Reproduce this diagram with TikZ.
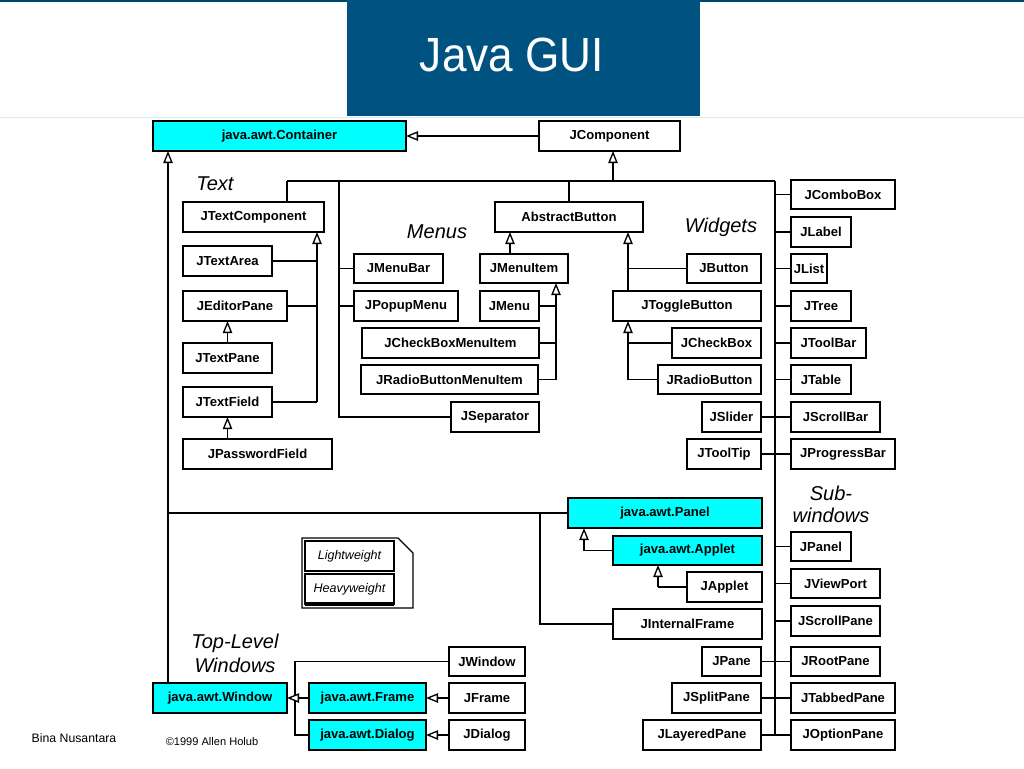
\documentclass[tikz,border=0pt]{standalone}
\usepackage{fontspec}
\setmainfont{Liberation Sans}
\usetikzlibrary{arrows.meta}
\definecolor{titleblue}{RGB}{0,83,128}
\definecolor{awtcyan}{RGB}{0,255,255}
\definecolor{faintline}{RGB}{215,238,245}
\tikzset{
  box/.style={draw=black, line width=1pt, fill=white, inner sep=0pt, outer sep=0pt,
    font=\fontsize{9.8}{11}\selectfont\bfseries},
  heavy/.style={box, line width=1.6pt},
  awt/.style={heavy, fill=awtcyan},
  legendbox/.style={box, line width=0.9pt, font=\fontsize{9.4}{11}\selectfont\itshape},
  conn/.style={draw=black, line width=1.1pt},
  inh/.style={conn, -{Triangle[fill=white, length=9pt, width=7pt, line width=1pt]}},
  cat/.style={font=\fontsize{15}{17.5}\selectfont\itshape, inner sep=0pt, anchor=base},
}
\newcommand\mybox[7][box]{\node[#1, minimum width={(#5-#3)*0.75pt}, minimum height={(#6-#4)*0.75pt}] (#2) at ({(#3+#5)/2},{(#4+#6)/2}) {#7};}
\begin{document}
\begin{tikzpicture}[x=0.75pt, y=-0.75pt]
\useasboundingbox (0,0) rectangle (1024,768);
\fill[white] (0,0) rectangle (1024,768);
% header
\fill[titleblue!85!black] (0,0) rectangle (1024,2);
\draw[faintline, line width=1.2pt] (0,117.5) -- (1024,117.5);
\fill[titleblue] (347,0) rectangle (700,116);
\node[text=white, font=\fontsize{36}{40}\selectfont, inner sep=0pt, xscale=0.92, transform shape] (title) at (512,55) {Java GUI};

% boxes
\mybox[awt]{container}{153}{121}{406}{151}{java.awt.Container}
\mybox{jcomponent}{539}{121}{680}{151}{JComponent}
\mybox{jtextcomponent}{183}{202}{324}{232}{JTextComponent}
\mybox{jtextarea}{183}{246}{272}{276}{JTextArea}
\mybox{jeditorpane}{183}{291}{287}{321}{JEditorPane}
\mybox{jtextpane}{183}{343}{272}{373}{JTextPane}
\mybox{jtextfield}{183}{387}{272}{417}{JTextField}
\mybox{jpasswordfield}{183}{439}{332}{469}{JPasswordField}
\mybox{jmenubar}{354}{254}{443}{283}{JMenuBar}
\mybox{jpopupmenu}{354}{291}{458}{321}{JPopupMenu}
\mybox{abstractbutton}{495}{202}{643}{232}{AbstractButton}
\mybox{jmenuitem}{480}{254}{568}{283}{JMenuItem}
\mybox{jmenu}{480}{291}{539}{321}{JMenu}
\mybox{jcheckboxmenuitem}{362}{328}{539}{358}{JCheckBoxMenuItem}
\mybox{jradiobuttonmenuitem}{361}{365}{538}{394}{JRadioButtonMenuItem}
\mybox{jseparator}{451}{402}{539}{432}{JSeparator}
\mybox{jbutton}{687}{254}{761}{283}{JButton}
\mybox{jtogglebutton}{613}{291}{761}{321}{JToggleButton}
\mybox{jcheckbox}{672}{328}{761}{358}{JCheckBox}
\mybox{jradiobutton}{658}{365}{761}{394}{JRadioButton}
\mybox{jslider}{702}{402}{761}{432}{JSlider}
\mybox{jtooltip}{687}{439}{761}{469}{JToolTip}
\mybox{jcombobox}{791}{180}{895}{209}{JComboBox}
\mybox{jlabel}{791}{217}{851}{247}{JLabel}
\mybox{jlist}{791}{254}{827}{283}{JList}
\mybox{jtree}{791}{291}{851}{321}{JTree}
\mybox{jtoolbar}{791}{328}{866}{358}{JToolBar}
\mybox{jtable}{791}{365}{851}{394}{JTable}
\mybox{jscrollbar}{791}{402}{880}{432}{JScrollBar}
\mybox{jprogressbar}{791}{439}{895}{469}{JProgressBar}
\mybox{jpanel}{791}{532}{851}{561}{JPanel}
\mybox{jviewport}{791}{569}{880}{598}{JViewPort}
\mybox{jscrollpane}{791}{606}{880}{636}{JScrollPane}
\mybox{jrootpane}{791}{647}{880}{676}{JRootPane}
\mybox{jtabbedpane}{791}{683}{895}{713}{JTabbedPane}
\mybox{joptionpane}{791}{720}{895}{750}{JOptionPane}
\mybox{jpane}{702}{647}{761}{676}{JPane}
\mybox{jsplitpane}{672}{683}{761}{713}{JSplitPane}
\mybox{jlayeredpane}{643}{720}{761}{750}{JLayeredPane}
\mybox[awt]{panel}{568}{498}{762}{528}{java.awt.Panel}
\mybox[awt]{applet}{613}{536}{762}{565}{java.awt.Applet}
\mybox[heavy]{japplet}{687}{572}{762}{602}{JApplet}
\mybox{jinternalframe}{613}{609}{762}{639}{JInternalFrame}
\mybox[awt]{window}{153}{683}{287}{713}{java.awt.Window}
\mybox[awt]{frame}{309}{683}{426}{713}{java.awt.Frame}
\mybox[awt]{dialog}{309}{720}{426}{750}{java.awt.Dialog}
\mybox{jwindow}{449}{647}{525}{676}{JWindow}
\mybox{jframe}{449}{683}{525}{713}{JFrame}
\mybox{jdialog}{449}{720}{525}{750}{JDialog}

% category labels
\node[cat] (lText) at (215,190) {Text};
\node[cat] (lMenus) at (437,238) {Menus};
\node[cat] (lWidgets) at (721,232) {Widgets};
\node[cat] (lSub) at (831,500) {Sub-};
\node[cat] (lWin) at (831,522) {windows};
\node[cat] (lTop) at (235,648) {Top-Level};
\node[cat] (lTopW) at (235,672) {Windows};

% legend note
\draw[line width=0.9pt, fill=white] (302,538) -- (398,538) -- (413,553) -- (413,608) -- (302,608) -- cycle;
\mybox[legendbox]{light}{305}{541}{394}{571}{Lightweight}
\mybox[legendbox]{heavyw}{305}{574}{394}{604}{Heavyweight}
\draw[line width=2.4pt] (heavyw.south west) -- (heavyw.south east);

% JComponent -> Container
\draw[inh] (jcomponent.west) -- (container.east);

% main trunk
\coordinate (tL) at (287,181);
\coordinate (tM) at (339,181);
\coordinate (tAB) at (569,181);
\coordinate (tJC) at (613,181);
\coordinate (tR) at (775,181);
\draw[conn] (tL) -- (tR);
\draw[inh] (tJC) -- (tJC |- jcomponent.south);
\draw[conn] (tL) -- (tL |- jtextcomponent.north);
\draw[conn] (tAB) -- (tAB |- abstractbutton.north);

% right trunk (widgets and sub-windows)
\coordinate (rB) at (775,735);
\draw[conn] (tR) -- (rB);
\foreach \n in {jcombobox,jlabel,jlist,jtree,jtoolbar,jtable,jpanel,jviewport,jscrollpane}
  \draw[conn] (\n.west -| tR) -- (\n.west);
\draw[conn] (jslider.east) -- (jscrollbar.west);
\draw[conn] (jtooltip.east) -- (jprogressbar.west);
\draw[conn] (jpane.east) -- (jrootpane.west);
\draw[conn] (jsplitpane.east) -- (jtabbedpane.west);
\draw[conn] (jlayeredpane.east) -- (joptionpane.west);

% menus trunk
\coordinate (mB) at (339,417);
\draw[conn] (tM) -- (mB) -- (jseparator.west);
\draw[conn] (jmenubar.west -| tM) -- (jmenubar.west);
\draw[conn] (jpopupmenu.west -| tM) -- (jpopupmenu.west);

% text components
\coordinate (tx) at (317,402);
\draw[conn] (jtextfield.east) -- (tx);
\draw[inh] (tx) -- (tx |- jtextcomponent.south);
\draw[conn] (jtextarea.east) -- (jtextarea.east -| tx);
\draw[conn] (jeditorpane.east) -- (jeditorpane.east -| tx);
\draw[inh] (jtextpane.north) -- (jtextpane.north |- jeditorpane.south);
\draw[inh] (jpasswordfield.north -| jtextfield.south) -- (jtextfield.south);

% menu items
\coordinate (mx) at (556,379.5);
\draw[conn] (jradiobuttonmenuitem.east) -- (mx);
\draw[inh] (mx) -- (mx |- jmenuitem.south);
\draw[conn] (jcheckboxmenuitem.east) -- (jcheckboxmenuitem.east -| mx);
\draw[conn] (jmenu.east) -- (jmenu.east -| mx);
\coordinate (c510) at (510,0);
\draw[inh] (jmenuitem.north -| c510) -- (abstractbutton.south -| c510);

% buttons
\coordinate (bx) at (628,0);
\draw[inh] (jtogglebutton.north -| bx) -- (abstractbutton.south -| bx);
\draw[conn] (jbutton.west) -- (jbutton.west -| bx);
\coordinate (tb) at (628,379.5);
\draw[conn] (jradiobutton.west) -- (tb);
\draw[inh] (tb) -- (tb |- jtogglebutton.south);
\draw[conn] (jcheckbox.west) -- (jcheckbox.west -| tb);

% container left line
\coordinate (cx) at (168,0);
\draw[inh] (window.north -| cx) -- (container.south -| cx);
\coordinate (pj) at (168,513);
\coordinate (pb) at (540,513);
\draw[conn] (pj) -- (panel.west);
\draw[conn] (pb) -- (pb |- jinternalframe.west) -- (jinternalframe.west);

% panel / applet
\coordinate (px) at (584,550.5);
\draw[conn] (applet.west) -- (px);
\draw[inh] (px) -- (px |- panel.south);
\coordinate (ax) at (658,587);
\draw[conn] (japplet.west) -- (ax);
\draw[inh] (ax) -- (ax |- applet.south);

% top-level windows
\coordinate (wx) at (295,661.5);
\coordinate (wb) at (295,735);
\draw[conn] (jwindow.west) -- (wx) -- (wb) -- (dialog.west);
\draw[inh] (frame.west) -- (window.east);
\draw[inh] (jframe.west) -- (frame.east);
\draw[inh] (jdialog.west) -- (dialog.east);

% footer
\node[font=\fontsize{9.2}{11}\selectfont, inner sep=0pt] (bina) at (74,738) {Bina Nusantara};
\node[font=\fontsize{8.3}{10}\selectfont, inner sep=0pt] (copy) at (212,742) {©1999 Allen Holub};
\end{tikzpicture}
\end{document}
